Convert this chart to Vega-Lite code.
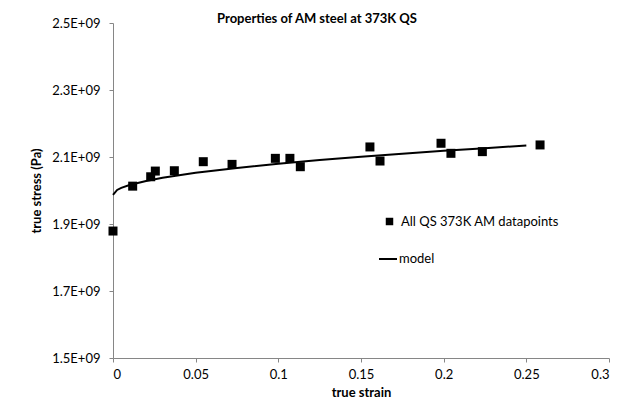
{
  "$schema": "https://vega.github.io/schema/vega-lite/v6.json",
  "width": 496,
  "height": 335,
  "autosize": {"type": "none"},
  "padding": {"left": 113, "top": 23, "right": 14, "bottom": 58},
  "background": "white",
  "datasets": {
    "points": [
      {"strain": 0.0, "stress": 1.879e9, "series": "All QS 373K AM datapoints"},
      {"strain": 0.0119, "stress": 2.013e9, "series": "All QS 373K AM datapoints"},
      {"strain": 0.0228, "stress": 2.041e9, "series": "All QS 373K AM datapoints"},
      {"strain": 0.0256, "stress": 2.058e9, "series": "All QS 373K AM datapoints"},
      {"strain": 0.0371, "stress": 2.059e9, "series": "All QS 373K AM datapoints"},
      {"strain": 0.0546, "stress": 2.086e9, "series": "All QS 373K AM datapoints"},
      {"strain": 0.072, "stress": 2.078e9, "series": "All QS 373K AM datapoints"},
      {"strain": 0.0982, "stress": 2.096e9, "series": "All QS 373K AM datapoints"},
      {"strain": 0.107, "stress": 2.096e9, "series": "All QS 373K AM datapoints"},
      {"strain": 0.1133, "stress": 2.071e9, "series": "All QS 373K AM datapoints"},
      {"strain": 0.1554, "stress": 2.13e9, "series": "All QS 373K AM datapoints"},
      {"strain": 0.1615, "stress": 2.088e9, "series": "All QS 373K AM datapoints"},
      {"strain": 0.1984, "stress": 2.141e9, "series": "All QS 373K AM datapoints"},
      {"strain": 0.2044, "stress": 2.111e9, "series": "All QS 373K AM datapoints"},
      {"strain": 0.2234, "stress": 2.116e9, "series": "All QS 373K AM datapoints"},
      {"strain": 0.2583, "stress": 2.136e9, "series": "All QS 373K AM datapoints"}
    ],
    "model": [
      {"strain": 0.0, "stress": 1.987e9, "curve": "model"},
      {"strain": 0.0025, "stress": 2.0017e9, "curve": "model"},
      {"strain": 0.005, "stress": 2.0078e9, "curve": "model"},
      {"strain": 0.01, "stress": 2.0164e9, "curve": "model"},
      {"strain": 0.02, "stress": 2.0286e9, "curve": "model"},
      {"strain": 0.03, "stress": 2.0379e9, "curve": "model"},
      {"strain": 0.05, "stress": 2.0527e9, "curve": "model"},
      {"strain": 0.075, "stress": 2.0675e9, "curve": "model"},
      {"strain": 0.1, "stress": 2.08e9, "curve": "model"},
      {"strain": 0.125, "stress": 2.091e9, "curve": "model"},
      {"strain": 0.15, "stress": 2.1009e9, "curve": "model"},
      {"strain": 0.175, "stress": 2.11e9, "curve": "model"},
      {"strain": 0.2, "stress": 2.1185e9, "curve": "model"},
      {"strain": 0.225, "stress": 2.1264e9, "curve": "model"},
      {"strain": 0.25, "stress": 2.134e9, "curve": "model"}
    ]
  },
  "config": {
    "view": {"stroke": null},
    "font": "Lato",
    "axis": {
      "grid": false,
      "domainColor": "#868686",
      "tickColor": "#868686",
      "tickSize": 4,
      "labelFont": "Lato",
      "labelFontSize": 13,
      "labelColor": "black",
      "titleFont": "Lato",
      "titleFontSize": 13,
      "titleFontWeight": "bold",
      "titleColor": "black"
    },
    "legend": {
      "labelFont": "Lato",
      "labelFontSize": 13,
      "labelColor": "black",
      "padding": 0
    }
  },
  "title": {
    "text": "Properties of AM steel at 373K QS",
    "font": "Lato",
    "fontSize": 13,
    "fontWeight": "bold",
    "color": "black",
    "anchor": "middle",
    "frame": "group",
    "baseline": "middle",
    "offset": 0,
    "dx": -44,
    "dy": 15
  },
  "layer": [
    {
      "data": {"name": "model"},
      "mark": {"type": "line", "strokeWidth": 2},
      "encoding": {
        "x": {
          "field": "strain",
          "type": "quantitative",
          "scale": {"domain": [0, 0.3], "nice": false},
          "axis": {
            "title": "true strain",
            "values": [0, 0.05, 0.1, 0.15, 0.2, 0.25, 0.3],
            "format": ".2~f",
            "labelPadding": 6,
            "titlePadding": 5
          }
        },
        "y": {
          "field": "stress",
          "type": "quantitative",
          "scale": {"domain": [1.5e9, 2.5e9], "nice": false, "zero": false},
          "axis": {
            "title": "true stress (Pa)",
            "values": [1.5e9, 1.7e9, 1.9e9, 2.1e9, 2.3e9, 2.5e9],
            "labelExpr": "format(datum.value / 1e9, '.1f') + 'E+09'",
            "labelPadding": 9,
            "titlePadding": 8
          }
        },
        "color": {
          "field": "curve",
          "type": "nominal",
          "scale": {"range": ["black"]},
          "legend": {
            "orient": "none",
            "legendX": 265,
            "legendY": 226,
            "title": null,
            "symbolType": "stroke",
            "symbolSize": 324,
            "symbolStrokeWidth": 2,
            "labelOffset": 1
          }
        }
      }
    },
    {
      "data": {"name": "points"},
      "mark": {"type": "point", "filled": true, "color": "black", "size": 81, "opacity": 1},
      "encoding": {
        "x": {"field": "strain", "type": "quantitative"},
        "y": {"field": "stress", "type": "quantitative"},
        "shape": {
          "field": "series",
          "type": "nominal",
          "scale": {"range": ["square"]},
          "legend": {
            "orient": "none",
            "legendX": 270,
            "legendY": 192,
            "title": null,
            "symbolSize": 56,
            "symbolFillColor": "black",
            "symbolStrokeColor": "black",
            "symbolOpacity": 1,
            "labelOffset": 5
          }
        }
      }
    }
  ]
}
